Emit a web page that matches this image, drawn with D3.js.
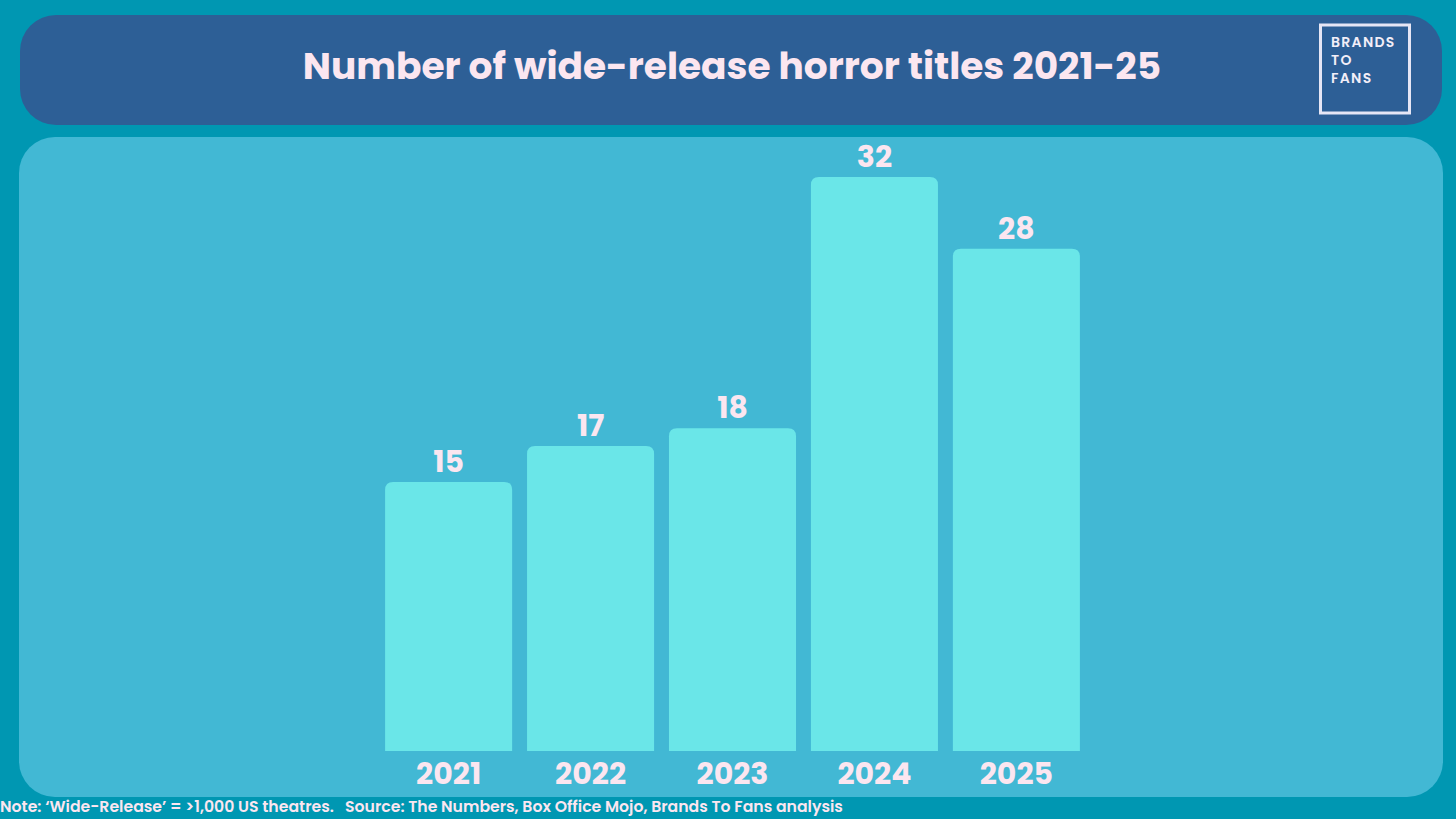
<!DOCTYPE html>
<html><head><meta charset="utf-8">
<script src="https://cdn.jsdelivr.net/npm/d3@7"></script>
<style>body{margin:0;background:#0097b2;} svg{display:block;}</style>
</head><body>
<script>
const years = ["2021","2022","2023","2024","2025"];
const titles = [15, 17, 18, 32, 28];
const titleText = "Number of wide-release horror titles 2021-25";
const footnote = "Note: \u2018Wide-Release\u2019 = >1,000 US theatres.   Source: The Numbers, Box Office Mojo, Brands To Fans analysis";
const logoLines = ["BRANDS","TO","FANS"];

const W = 1456, H = 819;
const font = "Poppins, 'Lato', 'Noto Sans', sans-serif";
const textCol = "#fbe6f0";
const svg = d3.select("body").append("svg").attr("width", W).attr("height", H);
svg.append("rect").attr("width", W).attr("height", H).attr("fill", "#0097b2");

// header
svg.append("rect").attr("x", 20).attr("y", 15).attr("width", 1422).attr("height", 110)
  .attr("rx", 36).attr("fill", "#2d5f96");
svg.append("text").attr("x", 732).attr("y", 79).attr("text-anchor", "middle")
  .attr("font-family", font).attr("font-weight", 700).attr("font-size", 37.5)
  .attr("fill", textCol).text(titleText);

// logo
svg.append("rect").attr("x", 1320.5).attr("y", 25).attr("width", 89).attr("height", 88)
  .attr("fill", "none").attr("stroke", "#e6e6f5").attr("stroke-width", 3);
svg.append("g").selectAll("text").data(logoLines).join("text")
  .attr("x", 1331).attr("y", (d, i) => 47 + i * 18)
  .attr("font-family", font).attr("font-weight", 600).attr("font-size", 14)
  .attr("letter-spacing", 1.3).attr("fill", "#f2eef8").text(d => d);

// panel
svg.append("rect").attr("x", 19).attr("y", 137).attr("width", 1424).attr("height", 660)
  .attr("rx", 36).attr("fill", "#42b8d4");

// scales
const x = d3.scaleBand().domain(years).range([378, 1087]).paddingInner(0.105).paddingOuter(0.05);
const y = d3.scaleLinear().domain([0, 32]).range([751, 177]);

const r = 8;
function barPath(d, i) {
  const x0 = x(years[i]), w = x.bandwidth(), y0 = y(d), y1 = y(0);
  return `M${x0},${y1}V${y0 + r}Q${x0},${y0} ${x0 + r},${y0}H${x0 + w - r}Q${x0 + w},${y0} ${x0 + w},${y0 + r}V${y1}Z`;
}
svg.append("g").selectAll("path").data(titles).join("path")
  .attr("d", (d, i) => barPath(d, i)).attr("fill", "#6ae6e8");

svg.append("g").selectAll("text").data(titles).join("text")
  .attr("x", (d, i) => x(years[i]) + x.bandwidth() / 2)
  .attr("y", d => y(d) - 10).attr("text-anchor", "middle")
  .attr("font-family", font).attr("font-weight", 700).attr("font-size", 30)
  .attr("fill", textCol).text(d => d);

// x axis
const xAxis = svg.append("g").attr("transform", `translate(0,${y(0)})`)
  .call(d3.axisBottom(x).tickSize(0).tickPadding(12));
xAxis.select(".domain").remove();
xAxis.selectAll("text").attr("font-family", font).attr("font-weight", 700)
  .attr("font-size", 30).attr("fill", textCol).attr("dy", "0.71em");

// footnote
svg.append("text").attr("x", 0).attr("y", 812)
  .attr("font-family", font).attr("font-weight", 600).attr("font-size", 15.7)
  .attr("fill", textCol).attr("xml:space", "preserve").style("white-space", "pre").text(footnote);
</script>
</body></html>
